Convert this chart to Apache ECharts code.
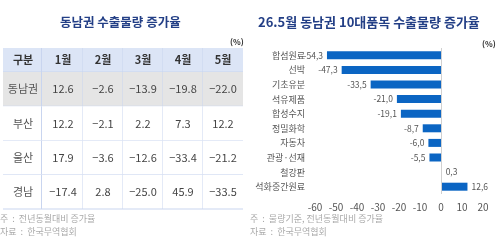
<!DOCTYPE html>
<html>
<head>
<meta charset="utf-8">
<script src="https://cdn.jsdelivr.net/npm/echarts@6/dist/echarts.min.js"></script>
<style>
html,body{margin:0;padding:0;background:#fff;}
#chart{width:500px;height:247px;}
</style>
</head>
<body>
<div id="chart"></div>
<script>
// ---- Table data ----
const tableHeaderLabel = '구분';
const tableCols = ['1월', '2월', '3월', '4월', '5월'];
const tableRows = ['동남권', '부산', '울산', '경남'];
const valsDongnam = [12.6, -2.6, -13.9, -19.8, -22.0];
const valsBusan = [12.2, -2.1, 2.2, 7.3, 12.2];
const valsUlsan = [17.9, -3.6, -12.6, -33.4, -21.2];
const valsGyeongnam = [-17.4, 2.8, -25.0, 45.9, -33.5];
const tableValues = [valsDongnam, valsBusan, valsUlsan, valsGyeongnam];

// ---- Bar data ----
const barCategories = ['합섬원료', '선박', '기초유분', '석유제품', '합성수지', '정밀화학', '자동차', '관광·선재', '철강판', '석화중간원료'];
const barValues = [-54.3, -47.3, -33.5, -21.0, -19.1, -8.7, -6.0, -5.5, 0.3, 12.6];
const xTicks = { min: -60, max: 20, interval: 10 };

const FONT = '"Noto Sans CJK KR", "Noto Sans", sans-serif';
const LINE = '#c9d5ef';
const fmtVal = v => (v < 0 ? '\u2212' : '') + Math.abs(v).toFixed(1);

const colCats = [tableHeaderLabel].concat(tableCols);
const headerTexts = colCats.slice();
const headerData = colCats.map((_, i) => [i, 0]);
const bodyData = [];
const bodyTexts = [];
tableRows.forEach((r, ri) => {
  bodyData.push([0, ri]); bodyTexts.push(r);
  tableValues[ri].forEach((v, ci) => { bodyData.push([ci + 1, ri]); bodyTexts.push(fmtVal(v)); });
});

function makeRender(texts, isHeader) {
  return function (params, api) {
    const x = api.value(0), y = api.value(1);
    const c = api.coord([x, y]);
    const s = api.size([1, 1]);
    const x0 = c[0] - s[0] / 2, y0 = c[1] - s[1] / 2;
    let fill = '#ffffff';
    if (isHeader) fill = '#dce5f6';
    else if (y === 0) fill = '#e5e5e5';
    const children = [
      { type: 'rect', shape: { x: x0, y: y0, width: s[0], height: s[1] }, style: { fill: fill } },
      { type: 'line', shape: { x1: x0, y1: y0 + s[1], x2: x0 + s[0], y2: y0 + s[1] }, style: { stroke: LINE, lineWidth: 1 } }
    ];
    if (x === 0) {
      children.push({ type: 'line', shape: { x1: x0 + s[0] - 1.5, y1: y0, x2: x0 + s[0] - 1.5, y2: y0 + s[1] }, style: { stroke: LINE, lineWidth: 1 } });
      children.push({ type: 'line', shape: { x1: x0 + s[0] + 1, y1: y0, x2: x0 + s[0] + 1, y2: y0 + s[1] }, style: { stroke: LINE, lineWidth: 1 } });
    } else if (x < colCats.length - 1) {
      children.push({ type: 'line', shape: { x1: x0 + s[0], y1: y0, x2: x0 + s[0], y2: y0 + s[1] }, style: { stroke: LINE, lineWidth: 1 } });
    }
    children.push({
      type: 'text',
      style: {
        x: c[0], y: c[1], text: texts[params.dataIndex],
        align: 'center', verticalAlign: 'middle',
        fill: isHeader ? '#333' : (x === 0 ? '#555' : '#444'),
        font: (isHeader ? 'bold ' : '') + '11px ' + FONT
      }
    });
    return { type: 'group', children: children };
  };
}

const chart = echarts.init(document.getElementById('chart'), null, { renderer: 'canvas' });
chart.setOption({
  backgroundColor: '#ffffff',
  animation: false,
  grid: [
    { left: 3, top: 48, width: 240, height: 24 },
    { left: 3, top: 72, width: 240, height: 137 },
    { left: 315, top: 48, width: 168, height: 146 }
  ],
  xAxis: [
    { gridIndex: 0, type: 'category', data: colCats, show: false },
    { gridIndex: 1, type: 'category', data: colCats, show: false },
    {
      gridIndex: 2, type: 'value', min: xTicks.min, max: xTicks.max, interval: xTicks.interval,
      axisLine: { show: false }, axisTick: { show: false }, splitLine: { show: false },
      axisLabel: { color: '#555', fontSize: 10, fontFamily: FONT, margin: 8 }
    }
  ],
  yAxis: [
    { gridIndex: 0, type: 'category', data: ['h'], show: false },
    { gridIndex: 1, type: 'category', data: tableRows, inverse: true, show: false },
    {
      gridIndex: 2, type: 'category', data: barCategories, inverse: true,
      axisLine: { show: false, onZero: false }, axisTick: { show: false },
      axisLabel: { color: '#555', fontSize: 9, fontFamily: FONT, margin: 10 }
    }
  ],
  series: [
    { type: 'custom', xAxisIndex: 0, yAxisIndex: 0, data: headerData, renderItem: makeRender(headerTexts, true), silent: true },
    { type: 'custom', xAxisIndex: 1, yAxisIndex: 1, data: bodyData, renderItem: makeRender(bodyTexts, false), silent: true },
    {
      type: 'bar', xAxisIndex: 2, yAxisIndex: 2,
      data: barValues.map(v => ({ value: v, label: { position: v < 0 ? 'left' : 'right' } })),
      barWidth: 8,
      itemStyle: { color: '#0b65c3' },
      label: {
        show: true, fontSize: 8.5, fontFamily: FONT, color: '#555', distance: 4,
        formatter: p => String(p.value.toFixed(1)).replace('.', ',')
      },
      markLine: {
        silent: true, symbol: 'none', label: { show: false },
        lineStyle: { color: '#d0d0d0', type: 'solid', width: 1 },
        data: [{ xAxis: 0 }]
      }
    }
  ],
  graphic: [
    { type: 'text', left: 60, top: 16, style: { text: '동남권 수출물량 증가율', font: 'bold 12.5px ' + FONT, fill: '#233f86' } },
    { type: 'text', left: 258, top: 16, style: { text: '26.5월 동남권 10대품목 수출물량 증가율', font: 'bold 13px ' + FONT, fill: '#233f86' } },
    { type: 'text', left: 230, top: 38, style: { text: '(%)', font: 'bold 8px ' + FONT, fill: '#333' } },
    { type: 'text', left: 482, top: 40, style: { text: '(%)', font: 'bold 8px ' + FONT, fill: '#333' } },
    { type: 'text', left: 0, top: 214, style: { text: '주  :  전년동월대비 증가율', font: '9px ' + FONT, fill: '#aaa' } },
    { type: 'text', left: 0, top: 227, style: { text: '자료  :  한국무역협회', font: '9px ' + FONT, fill: '#aaa' } },
    { type: 'text', left: 250, top: 214, style: { text: '주  :  물량기준, 전년동월대비 증가율', font: '9px ' + FONT, fill: '#aaa' } },
    { type: 'text', left: 250, top: 227, style: { text: '자료  :  한국무역협회', font: '9px ' + FONT, fill: '#aaa' } }
  ]
});
</script>
</body>
</html>
